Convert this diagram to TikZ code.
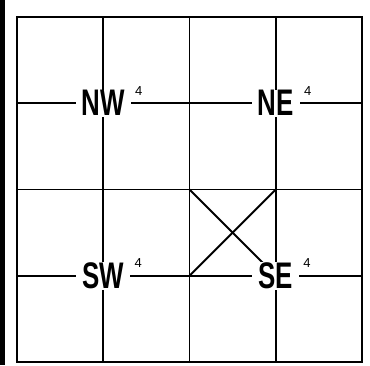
\documentclass[tikz,border=0pt]{standalone}
\usepackage{fontspec}
\setmainfont{Liberation Sans}
\newfontfamily\quadfont{Liberation Sans}[FakeStretch=0.7]
\usetikzlibrary{positioning}

\begin{document}
\begin{tikzpicture}[
  x=1pt,y=1pt,
  gridline/.style={line width=1.8pt},
  frameline/.style={line width=2.6pt},
  quad/.style={fill=white,inner xsep=6pt,inner ysep=1pt,font=\quadfont\bfseries\fontsize{37}{40}\selectfont},
  expo/.style={inner sep=0pt,font=\fontsize{13}{14}\selectfont}
]
\useasboundingbox (0,0) rectangle (370,365);
\fill (0,0) rectangle (5,365);
% grid corners
\coordinate (x1y1) at (103.25,261.75);
\coordinate (x3y1) at (275.75,261.75);
\coordinate (x2y2) at (189.5,175.5);
\coordinate (x3y2) at (275.75,175.5);
\coordinate (x1y3) at (103.25,89.25);
\coordinate (x2y3) at (189.5,89.25);
\coordinate (x3y3) at (275.75,89.25);
% frame and grid
\draw[frameline] (17,3) rectangle (362,348);
\draw[gridline] (103.25,3) -- (103.25,348);
\draw[gridline] (189.5,3) -- (189.5,348);
\draw[gridline] (275.75,3) -- (275.75,348);
\draw[gridline] (17,261.75) -- (362,261.75);
\draw[gridline] (17,175.5) -- (362,175.5);
\draw[gridline] (17,89.25) -- (362,89.25);
% cross in the lower right cell
\draw[gridline] (x2y2) -- (x3y3);
\draw[gridline] (x3y2) -- (x2y3);
% quadrant labels
\node[quad] (nw) at (x1y1) {NW};
\node[quad] (ne) at (x3y1) {NE};
\node[quad] (sw) at (x1y3) {SW};
\node[quad] (se) at (x3y3) {SE};
\node[expo,above right=8pt and 4pt of nw.east] (nw4) {4};
\node[expo,above right=8pt and 4pt of ne.east] (ne4) {4};
\node[expo,above right=8pt and 4pt of sw.east] (sw4) {4};
\node[expo,above right=8pt and 4pt of se.east] (se4) {4};
\end{tikzpicture}
\end{document}
